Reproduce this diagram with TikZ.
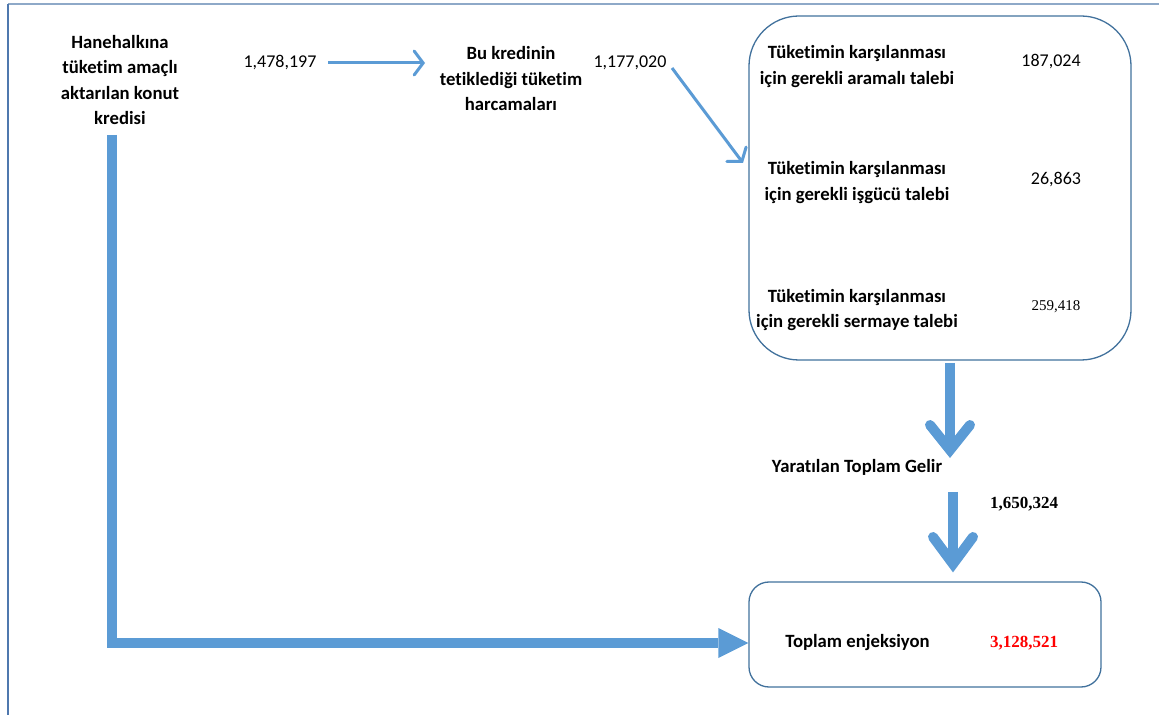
\documentclass[tikz,border=0pt]{standalone}
\usepackage{fontspec}
\setmainfont{Carlito}[Ligatures=NoCommon]
\newfontfamily\tnr{Liberation Serif}
\usetikzlibrary{arrows.meta}
\definecolor{arrblue}{HTML}{5B9BD5}
\definecolor{boxblue}{HTML}{41719C}
\definecolor{frametop}{HTML}{8EA9C8}
\definecolor{frameleft}{HTML}{4F78AE}
\definecolor{numred}{HTML}{FF0000}
\tikzset{
  lbl/.style={font=\bfseries\fontsize{18.7}{25.5}\selectfont, align=center, inner sep=0pt},
  num/.style={font=\fontsize{18}{25}\selectfont, inner sep=0pt},
  tnum/.style={font=\tnr\fontsize{15}{18}\selectfont, inner sep=0pt},
  bnum/.style={font=\tnr\bfseries\fontsize{17}{20}\selectfont, inner sep=0pt},
  roundbox/.style={draw=boxblue, line width=1.3pt},
  thinarrow/.style={draw=arrblue, line width=3pt, -{Straight Barb[length=9pt,width=24pt,line cap=round]}},
  thick shaft/.style={draw=arrblue, line width=10pt},
  chevron/.style={draw=arrblue, line width=10pt, line cap=round, line join=miter},
}
\begin{document}
\begin{tikzpicture}[x=1pt,y=1pt]
\useasboundingbox (0,0) rectangle (1159,715);
% frame
\draw[frametop, line width=2pt] (8,711) -- (1159,711);
\draw[frameleft, line width=1.8pt] (8,711) -- (8,0);

% left column
\node[lbl] (hh) at (120,635) {Hanehalkına\\tüketim amaçlı\\aktarılan konut\\kredisi};
\node[num] (n1) at (280,652) {1,478,197};
\node[lbl] (bk) at (511,636) {Bu kredinin\\tetiklediği tüketim\\harcamaları};
\node[num] (n2) at (630,652) {1,177,020};

% big rounded box
\node[roundbox, rounded corners=50pt, minimum width=382pt, minimum height=344pt] (bb) at (940,527) {};
\node[lbl] (t1) at (857,648.5) {Tüketimin karşılanması\\için gerekli aramalı talebi};
\node[num] (v1) at (1051,653) {187,024};
\node[lbl] (t2) at (857,532.5) {Tüketimin karşılanması\\için gerekli işgücü talebi};
\node[num] (v2) at (1056,535) {26,863};
\node[lbl] (t3) at (857,405) {Tüketimin karşılanması\\için gerekli sermaye talebi};
\node[tnum] (v3) at (1056,408) {259,418};

% income
\node[lbl] (gelir) at (857,248) {Yaratılan Toplam Gelir};
\node[bnum] (n3) at (1024,211) {1,650,324};

% bottom box
\node[roundbox, rounded corners=20pt, minimum width=352pt, minimum height=105pt] (bot) at (925,80.5) {};
\node[lbl] (top) at (857.5,72) {Toplam enjeksiyon};
\node[bnum, text=numred] (n4) at (1024,72) {3,128,521};

% thin arrows
\coordinate (a1s) at (328,652);
\coordinate (a1e) at (425,652);
\draw[thinarrow] (a1s) -- (a1e);
\coordinate (a2s) at (672,647);
\coordinate (a2e) at (743,552);
\draw[thinarrow] (a2s) -- (a2e);

% big down arrow 1
\coordinate (b1s) at (950,352);
\coordinate (b1t) at (950,265);
\draw[thick shaft] (b1s) -- (b1t);
\draw[chevron] ([xshift=-20pt,yshift=25pt]b1t) -- (b1t) -- ([xshift=20pt,yshift=25pt]b1t);

% big down arrow 2
\coordinate (b2s) at (953,223);
\coordinate (b2t) at (953,151);
\draw[thick shaft] (b2s) -- (b2t);
\draw[chevron] ([xshift=-20pt,yshift=27pt]b2t) -- (b2t) -- ([xshift=20pt,yshift=27pt]b2t);

% L arrow
\coordinate (ls) at (112,580);
\coordinate (lt) at (bot.west |- 0,72);
\coordinate (lb) at ([xshift=-30pt]lt);
\draw[draw=arrblue, line width=10pt, line join=miter] (ls) |- (lb);
\fill[arrblue] ([yshift=15pt]lb) -- (lt) -- ([yshift=-15pt]lb) -- cycle;
\end{tikzpicture}
\end{document}
